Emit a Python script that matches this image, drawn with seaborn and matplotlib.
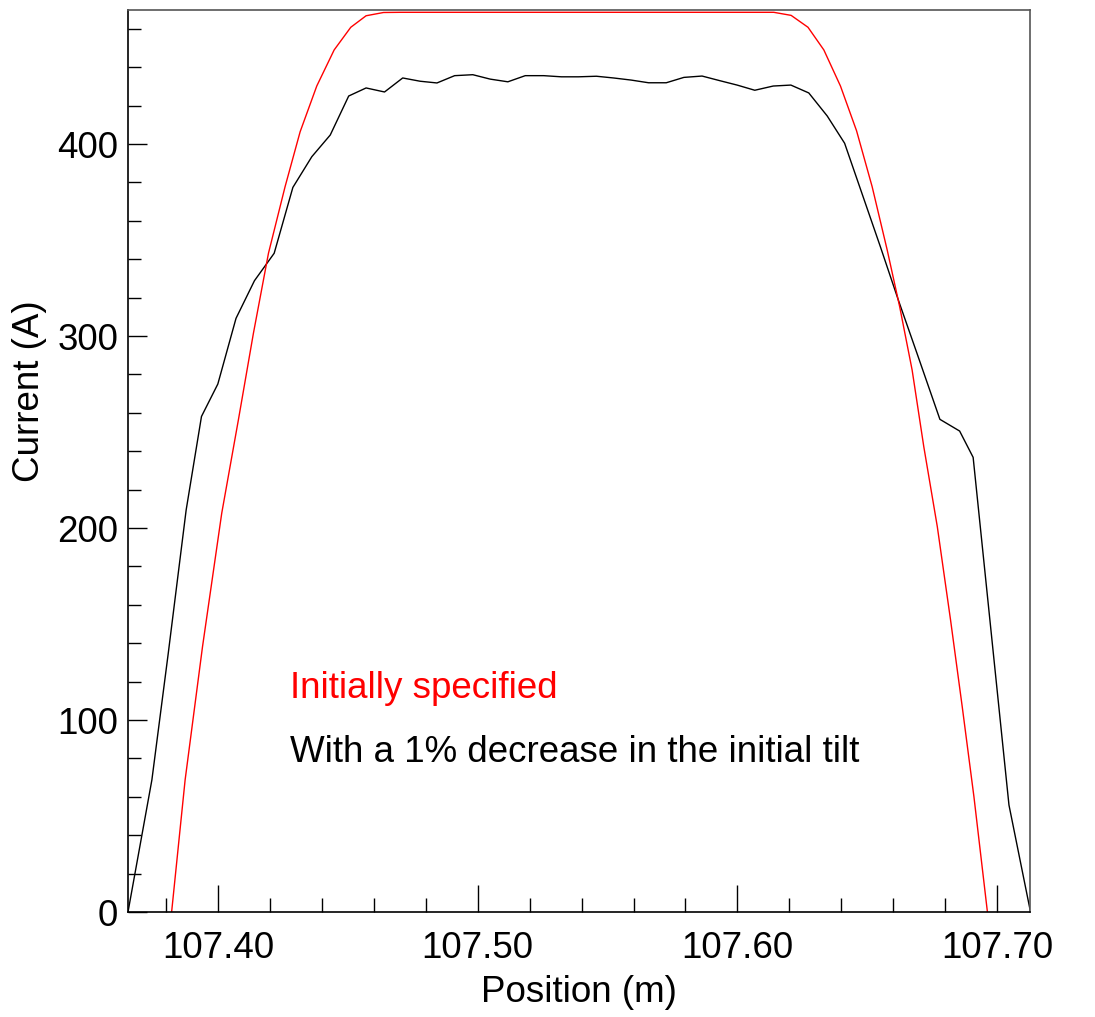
import matplotlib
matplotlib.use("Agg")
import matplotlib.pyplot as plt
import seaborn as sns
import numpy as np
import pandas as pd
from matplotlib.ticker import MultipleLocator, FixedFormatter, FixedLocator

# ---------------- data ----------------
black_pos = [107.3653, 107.3745, 107.3808, 107.3877, 107.3936, 107.3999, 107.4069,
             107.4140, 107.4216, 107.4288, 107.4361, 107.4432, 107.4503, 107.4570,
             107.4641, 107.4711, 107.4778, 107.4843, 107.4911, 107.4981, 107.5048,
             107.5116, 107.5183, 107.5254, 107.5322, 107.5388, 107.5457, 107.5523,
             107.5591, 107.5658, 107.5726, 107.5794, 107.5864, 107.5932, 107.5999,
             107.6067, 107.6138, 107.6206, 107.6275, 107.6346, 107.6413, 107.6482,
             107.6551, 107.6620, 107.6694, 107.6780, 107.6856, 107.6908, 107.7046,
             107.7129]
black_cur = [0.0, 68.8, 134.7, 209.4, 258.1, 275.0, 309.2,
             328.8, 343.1, 377.4, 393.4, 404.7, 425.0, 429.2,
             427.1, 434.4, 432.7, 431.8, 435.6, 436.1, 433.8,
             432.4, 435.6, 435.6, 435.0, 435.0, 435.3, 434.4,
             433.3, 431.9, 431.9, 434.7, 435.4, 433.0, 430.7,
             428.0, 430.2, 430.7, 426.6, 414.6, 400.4, 373.4,
             346.4, 318.7, 290.1, 256.6, 250.5, 236.8, 55.7,
             0.0]

red_pos = [107.3821, 107.3873, 107.3940, 107.4014, 107.4078, 107.4136, 107.4194,
           107.4258, 107.4316, 107.4380, 107.4447, 107.4511, 107.4570, 107.4637,
           107.4701, 107.5400, 107.6140, 107.6207, 107.6272, 107.6333, 107.6397,
           107.6459, 107.6519, 107.6577, 107.6625, 107.6673, 107.6718, 107.6770,
           107.6821, 107.6866, 107.6911, 107.6963]
red_cur = [0.0, 68.8, 138.2, 207.7, 256.2, 301.4, 343.1,
           377.8, 406.4, 430.2, 449.0, 460.8, 466.8, 468.5,
           468.6, 468.6, 468.6, 467.0, 460.8, 449.0, 430.2,
           406.9, 377.8, 344.8, 315.3, 282.3, 242.3, 200.7,
           152.1, 106.9, 60.1, 0.0]

x_tick_vals = [107.40, 107.50, 107.60, 107.70]
x_tick_labels = ["107.40", "107.50", "107.60", "107.70"]
y_tick_vals = [0, 100, 200, 300, 400]
y_tick_labels = ["0", "100", "200", "300", "400"]

label_red = "Initially specified"
label_black = "With a 1% decrease in the initial tilt"
x_title = "Position (m)"
y_title = "Current (A)"

# ---------------- figure ----------------
sns.set_style("white")
plt.rcParams['font.family'] = ['Liberation Sans', 'DejaVu Sans']

W, H = 1095, 1017
fig = plt.figure(figsize=(W / 100, H / 100), dpi=100)
ax = fig.add_axes([128 / W, 1 - 912 / H, (1030 - 128) / W, (912 - 10) / H])

df_black = pd.DataFrame({"pos": black_pos, "cur": black_cur})
df_red = pd.DataFrame({"pos": red_pos, "cur": red_cur})

sns.lineplot(data=df_black, x="pos", y="cur", color="black", linewidth=1.0,
             estimator=None, sort=False, ax=ax)
sns.lineplot(data=df_red, x="pos", y="cur", color="#ff0000", linewidth=1.0,
             estimator=None, sort=False, ax=ax)

ax.set_xlim(107.3653, 107.7127)
ax.set_ylim(0, 469.8)

ax.xaxis.set_major_locator(FixedLocator(x_tick_vals))
ax.xaxis.set_major_formatter(FixedFormatter(x_tick_labels))
ax.xaxis.set_minor_locator(MultipleLocator(0.02))
ax.yaxis.set_major_locator(FixedLocator(y_tick_vals))
ax.yaxis.set_major_formatter(FixedFormatter(y_tick_labels))
ax.yaxis.set_minor_locator(MultipleLocator(20))

ax.tick_params(axis="x", which="major", direction="in", length=19.5, width=1.0,
               labelsize=26.5, pad=14, color="black", labelcolor="black",
               bottom=True, top=False)
ax.tick_params(axis="x", which="minor", direction="in", length=10, width=1.0,
               color="black", bottom=True, top=False)
ax.tick_params(axis="y", which="major", direction="in", length=14, width=1.0,
               labelsize=26.5, pad=7, color="black", labelcolor="black",
               left=True, right=False)
ax.tick_params(axis="y", which="minor", direction="in", length=9.5, width=1.0,
               color="black", left=True, right=False)

for side in ["left", "bottom"]:
    ax.spines[side].set_color("black")
    ax.spines[side].set_linewidth(1.2)
for side in ["top", "right"]:
    ax.spines[side].set_color("#555555")
    ax.spines[side].set_linewidth(1.2)

ax.set_xlabel("")
ax.set_ylabel("")
fig.text(579 / W, 1 - 993 / H, x_title, ha="center", va="center", fontsize=26.5,
         color="black")
fig.text(30 / W, 1 - 391 / H, y_title, ha="center", va="center", rotation=90,
         fontsize=26.5, color="black")

fig.text(290 / W, 1 - 698 / H, label_red, color="#ff0000", ha="left",
         va="baseline", fontsize=26.5)
fig.text(290 / W, 1 - 762 / H, label_black, color="black", ha="left",
         va="baseline", fontsize=26.5)

fig.savefig("out.png", dpi=100, facecolor="white")
